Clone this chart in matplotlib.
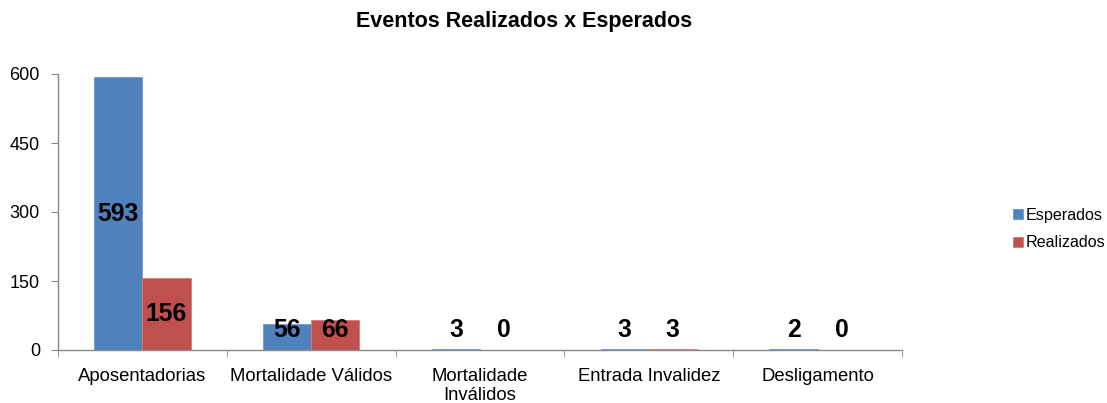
import matplotlib
matplotlib.use("Agg")
import matplotlib.pyplot as plt
import numpy as np

plt.rcParams['font.family'] = ['Liberation Sans', 'DejaVu Sans']

categories = ["Aposentadorias", "Mortalidade Válidos", "Mortalidade\nInválidos",
              "Entrada Invalidez", "Desligamento"]
esperados = [593, 56, 3, 3, 2]
realizados = [156, 66, 0, 3, 0]
yticks = [0, 150, 300, 450, 600]

blue = "#4F81BD"
red = "#C0504D"

fig = plt.figure(figsize=(11.07, 4.03), dpi=100)
ax = fig.add_axes([58/1107, 1-350/403, (902-58)/1107, (350-74)/403])

x = np.arange(len(categories))
w = 0.285
b1 = ax.bar(x - w/2, esperados, w, color=blue, edgecolor="#6F9BD1", linewidth=0.6, label="Esperados")
b2 = ax.bar(x + w/2, realizados, w, color=red, edgecolor="#D87A77", linewidth=0.6, label="Realizados")

for xs, vals in ((x - w/2, esperados), (x + w/2, realizados)):
    for xi, v in zip(xs, vals):
        ax.text(xi, max(v/2, 44), str(v), ha="center", va="center",
                fontsize=17.8, fontweight="bold", color="black")

ax.set_xlim(-0.5, len(categories) - 0.5)
ax.set_ylim(0, 600)
ax.set_yticks(yticks)
ax.set_yticklabels([str(t) for t in yticks], fontsize=13)
ax.set_xticks(x)
ax.set_xticklabels(categories, fontsize=13.3, linespacing=1.12)
ax.tick_params(axis="x", length=0, pad=13)
ax.set_xticks(np.arange(-0.5, len(categories)), minor=True)
ax.tick_params(axis="x", which="minor", length=5, color="#888888", direction="out")
ax.tick_params(axis="y", length=5, color="#888888", direction="out", pad=8)

for s in ("top", "right"):
    ax.spines[s].set_visible(False)
for s in ("left", "bottom"):
    ax.spines[s].set_color("#888888")
    ax.spines[s].set_linewidth(1.0)

fig.text(524/1107, 1-22/403, "Eventos Realizados x Esperados", ha="center", va="center",
         fontsize=15.5, fontweight="bold")

leg = fig.legend(handles=[b1, b2], loc="center left", bbox_to_anchor=(1013/1107, 1-229/403),
                 frameon=False, fontsize=11.6, handlelength=0.6, handleheight=0.6,
                 handletextpad=0.2, labelspacing=0.8, borderpad=0, borderaxespad=0)

fig.savefig("out.png", dpi=100)
